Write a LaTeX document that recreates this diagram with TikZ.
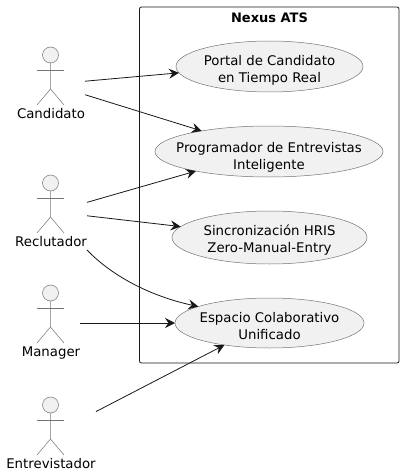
\documentclass[tikz,border=0pt]{standalone}
\usepackage{fontspec}
\setmainfont{DejaVu Sans}
\usetikzlibrary{arrows.meta,shapes.geometric}
\definecolor{umlline}{HTML}{181818}
\definecolor{umlfill}{HTML}{F1F1F1}
\tikzset{
    usecase/.style={shape=ellipse,draw=umlline!60,fill=umlfill,line width=0.5pt,inner xsep=-40pt,inner ysep=-12pt,outer sep=0pt,
        align=center,font=\fontsize{13.3}{17}\selectfont},
    actorbox/.style={inner sep=0pt,outer sep=0pt},
    actorname/.style={font=\fontsize{13.3}{17}\selectfont},
    assoc/.style={draw=umlline,line width=0.8pt,-{Stealth[length=10pt,width=10pt,inset=3.5pt]}}
}
\begin{document}
\begin{tikzpicture}[x=1pt,y=-1pt]
    \useasboundingbox (0,0) rectangle (404,476);
    \draw[umlline,line width=0.8pt,rounded corners=2pt](139.5,7)rectangle(399,363);
    \node[font=\fontsize{13}{17}\selectfont\bfseries] (titulo) at (269.5,18){Nexus ATS};
    % casos de uso
    \node[usecase,minimum width=187pt,minimum height=51pt] (portal) at (269.5,66.5)
    {\rule{0pt}{17pt}Portal de Candidato\\en Tiempo Real};
    \node[usecase,minimum width=228pt,minimum height=51pt] (programador) at (269,151.5)
    {\rule{0pt}{22pt}Programador de Entrevistas\\Inteligente};
    \node[usecase,minimum width=195pt,minimum height=53pt] (hris) at (269.5,237.5)
    {\rule{0pt}{16pt}Sincronización HRIS\\Zero-Manual-Entry};
    \node[usecase,minimum width=189pt,minimum height=50pt] (espacio) at (269.5,323)
    {\rule{0pt}{17pt}Espacio Colaborativo\\Unificado};
    % actores
    \foreach \y in {55,183,293,405}{
        \draw[umlline!60,fill=umlfill,line width=0.5pt](50.5,\y)circle(8);
        \draw[umlline!60,line width=0.5pt](50.5,\y+8)--(50.5,\y+34)--(37,\y+50);
        \draw[umlline!60,line width=0.5pt](50.5,\y+34)--(64,\y+50);
        \draw[umlline!60,line width=0.5pt](37,\y+15.5)--(64,\y+15.5);
    }
    \node[actorname] at (51,114){Candidato};
    \node[actorname] at (51,242){Reclutador};
    \node[actorname] at (51,353){Manager};
    \node[actorname] at (51,464){Entrevistador};
    \node[actorbox,minimum width=68pt,minimum height=78pt] (candidato) at (51,83){};
    \node[actorbox,minimum width=72pt,minimum height=76pt] (reclutador) at (51,212){};
    \node[actorbox,minimum width=58pt,minimum height=78pt] (manager) at (51,323){};
    \node[actorbox,minimum width=90pt,minimum height=77pt] (entrevistador) at (51,434.5){};
    % asociaciones
    \draw[assoc](candidato.3)--(portal.184.8);
    \draw[assoc](candidato.-19.4)--(programador.163.8);
    \draw[assoc](reclutador.15)--(programador.195.6);
    \draw[assoc](reclutador.-6.3)--(hris.173.6);
    \draw[assoc](reclutador.south east)..controls(112,276)and(150,296)..(espacio.167.6);
    \draw[assoc](manager.east)--(espacio.180);
    \draw[assoc](entrevistador.27)--(espacio.206);
\end{tikzpicture}
\end{document}
